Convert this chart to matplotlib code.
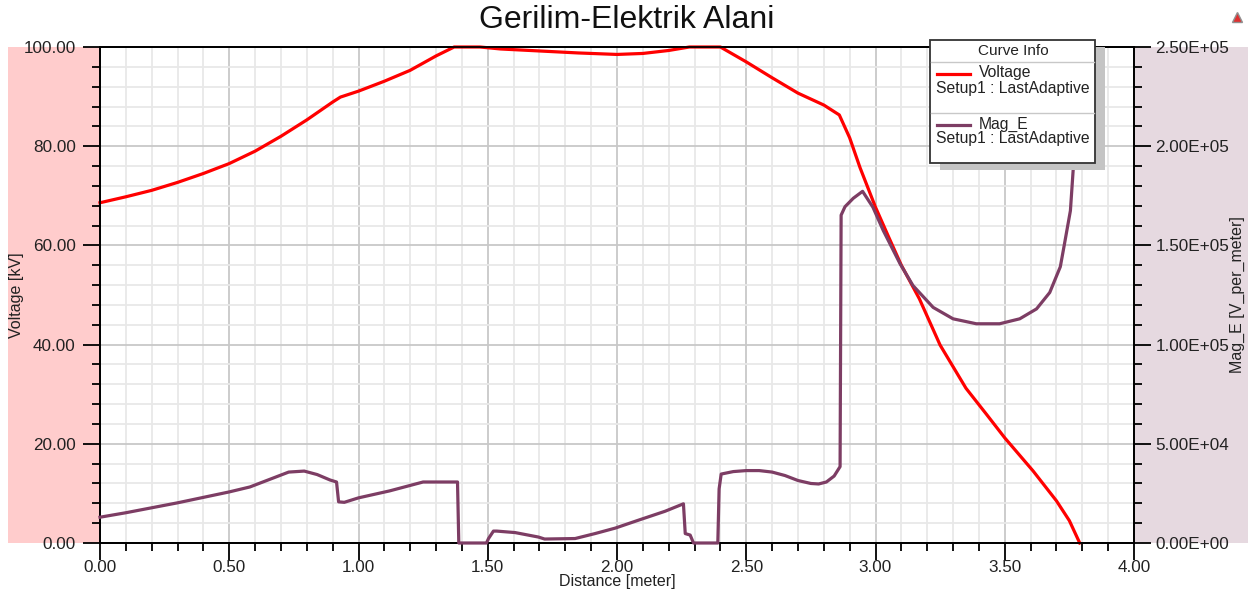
import matplotlib
matplotlib.use("Agg")
import matplotlib.pyplot as plt
from matplotlib.patches import Rectangle
from matplotlib.lines import Line2D
from matplotlib.ticker import MultipleLocator, FuncFormatter

plt.rcParams['font.family'] = ['Liberation Sans', 'DejaVu Sans']

# Voltage along the path [kV]
volt_dist = [0.00, 0.10, 0.20, 0.30, 0.40, 0.50, 0.60, 0.70, 0.80, 0.90, 0.93,
             1.00, 1.10, 1.20, 1.30, 1.37, 1.47, 1.55, 1.70, 1.85, 2.00, 2.10,
             2.20, 2.28, 2.40, 2.50, 2.60, 2.70, 2.80, 2.86, 2.90, 2.94, 3.00,
             3.05, 3.10, 3.17, 3.25, 3.35, 3.43, 3.50, 3.61, 3.70, 3.75, 3.79]
volt_kv = [68.6, 69.8, 71.1, 72.7, 74.5, 76.5, 79.0, 82.0, 85.3, 88.9, 89.9,
           91.1, 93.1, 95.3, 98.2, 100.0, 100.0, 99.6, 99.2, 98.8, 98.5, 98.7,
           99.3, 100.0, 100.0, 97.0, 93.8, 90.7, 88.3, 86.3, 81.7, 75.7, 67.7,
           61.8, 56.0, 49.2, 39.9, 31.2, 25.9, 21.2, 14.5, 8.5, 4.5, 0.0]

# Electric field magnitude along the path [V/m]
mag_dist = [0.00, 0.10, 0.20, 0.30, 0.40, 0.50, 0.58, 0.65, 0.73, 0.79, 0.84,
            0.89, 0.915, 0.923, 0.945, 1.00, 1.12, 1.25, 1.383, 1.388, 1.495,
            1.503, 1.522, 1.535, 1.606, 1.696, 1.72, 1.838, 1.915, 1.993, 2.083,
            2.186, 2.257, 2.264, 2.283, 2.296, 2.39, 2.395, 2.403, 2.45, 2.50,
            2.55, 2.60, 2.65, 2.70, 2.75, 2.78, 2.81, 2.84, 2.863, 2.867, 2.882,
            2.914, 2.95, 2.99, 3.03, 3.095, 3.145, 3.223, 3.30, 3.39, 3.48,
            3.558, 3.623, 3.674, 3.715, 3.73, 3.754, 3.767, 3.78]
mag_e = [13000, 15250, 17750, 20250, 23000, 25750, 28250, 31750, 35750, 36250,
         34500, 31750, 30750, 20750, 20500, 22750, 26250, 30750, 30750, 0, 0,
         2250, 6000, 6000, 5250, 3000, 2000, 2250, 4750, 7500, 11500, 16000,
         19750, 4750, 4000, 0, 0, 27250, 34750, 36000, 36500, 36500, 35750,
         34000, 31500, 30000, 29750, 30750, 33750, 38500, 165250, 169500,
         173750, 177250, 169250, 157500, 140750, 129750, 118750, 113000,
         110500, 110500, 113000, 118000, 126250, 139250, 150000, 167500,
         192500, 225000]

W, H = 1248, 591


def fx(x):
    return x / W


def fy(y):
    return 1 - y / H


fig = plt.figure(figsize=(W / 100, H / 100), dpi=100)
ax = fig.add_axes([fx(100), fy(543), (1134 - 100) / W, (543 - 47) / H])

# coloured side bands behind the axis labels
fig.add_artist(Rectangle((fx(8), fy(543)), (100 - 8) / W, (543 - 47) / H,
                         transform=fig.transFigure, facecolor='#ffcccc',
                         edgecolor='none', zorder=-1))
fig.add_artist(Rectangle((fx(1134), fy(543)), (1248 - 1134) / W, (543 - 47) / H,
                         transform=fig.transFigure, facecolor='#e6d9e0',
                         edgecolor='none', zorder=-1))

ax.set_xlim(0, 4)
ax.set_ylim(0, 100)
ax.xaxis.set_major_locator(MultipleLocator(0.5))
ax.xaxis.set_minor_locator(MultipleLocator(0.1))
ax.yaxis.set_major_locator(MultipleLocator(20))
ax.yaxis.set_minor_locator(MultipleLocator(4))
ax.xaxis.set_major_formatter(FuncFormatter(lambda v, p: '%.2f' % v))
ax.yaxis.set_major_formatter(FuncFormatter(lambda v, p: '%.2f' % v))
ax.grid(which='minor', color='#e8e8e8', lw=1.3)
ax.grid(which='major', color='#c8c8c8', lw=1.3)
ax.set_axisbelow(True)

ax.plot(volt_dist, volt_kv, color='#ff0000', lw=2.3, clip_on=False, zorder=3)

ax2 = ax.twinx()
ax2.set_ylim(0, 250000)
ax2.yaxis.set_major_locator(MultipleLocator(50000))
ax2.yaxis.set_minor_locator(MultipleLocator(10000))
ax2.yaxis.set_major_formatter(FuncFormatter(lambda v, p: '%.2E' % v))
ax2.plot(mag_dist, mag_e, color='#7d3d64', lw=2.3, clip_on=False, zorder=3)

for a in (ax, ax2):
    for s in a.spines.values():
        s.set_linewidth(1.3)
    a.tick_params(which='major', direction='out', length=12, width=1.3,
                  labelsize=12.3, labelcolor='#222222')
    a.tick_params(which='minor', direction='out', length=6, width=1.3)
ax.tick_params(axis='y', pad=5.5)
ax.tick_params(axis='x', pad=0.5)
ax2.tick_params(axis='y', pad=3.5)

ax.set_xlabel('Distance [meter]', fontsize=11.5, labelpad=-1, color='#222222')
ax.set_ylabel('Voltage [kV]', fontsize=11.5, color='#222222', va='center')
ax2.set_ylabel('Mag_E [V_per_meter]', fontsize=11.5, color='#222222',
               va='center')
ax.yaxis.set_label_coords((17 - 100) / 1034, 0.5)
ax2.yaxis.set_label_coords((1237 - 100) / 1034, 0.5)

fig.text(fx(627), fy(20), 'Gerilim-Elektrik Alani', fontsize=23,
         ha='center', va='center', color='#111111')

# small marker icon in the top right corner
fig.add_artist(Line2D([fx(1237)], [fy(17)], marker='^', markersize=7,
                      color='#e03030', markeredgecolor='#909090',
                      transform=fig.transFigure))

# legend box ("Curve Info") with drop shadow
fig.add_artist(Rectangle((fx(940), fy(170)), 165 / W, 123 / H,
                         transform=fig.transFigure, facecolor='#c4c4c4',
                         edgecolor='none', zorder=5))
fig.add_artist(Rectangle((fx(930), fy(163)), 165 / W, 123 / H,
                         transform=fig.transFigure, facecolor='white',
                         edgecolor='#333333', lw=1.3, zorder=6))
for yy in (62, 113):
    fig.add_artist(Line2D([fx(931), fx(1094)], [fy(yy), fy(yy)],
                          color='#c8c8c8', lw=1.0, transform=fig.transFigure,
                          zorder=7))
fig.text(fx(1013), fy(51), 'Curve Info', fontsize=11, ha='center',
         va='center', color='#222222', zorder=8)
entries = [('Voltage', '#ff0000', 74), ('Mag_E', '#7d3d64', 125)]
for name, col, yy in entries:
    fig.add_artist(Line2D([fx(937), fx(970)], [fy(yy), fy(yy)], color=col,
                          lw=2.3, transform=fig.transFigure, zorder=8))
    fig.text(fx(979), fy(yy - 1), name, fontsize=11.3, ha='left', va='center',
             color='#222222', zorder=8)
    fig.text(fx(936), fy(yy + 14), 'Setup1 : LastAdaptive', fontsize=11.3,
             ha='left', va='center', color='#222222', zorder=8)

fig.savefig('out.png', dpi=100)
